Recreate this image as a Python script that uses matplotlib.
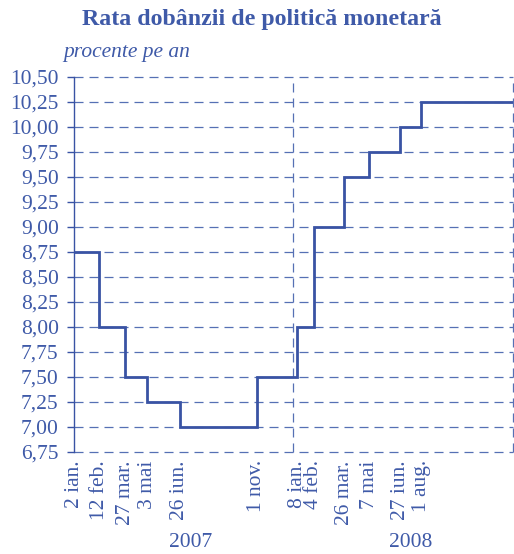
import matplotlib
matplotlib.use("Agg")
import matplotlib.pyplot as plt
import matplotlib.dates as mdates
from datetime import datetime

# ---- data ----
change_dates = ["2007-01-02", "2007-02-12", "2007-03-27", "2007-05-03", "2007-06-26",
                "2007-11-01", "2008-01-08", "2008-02-04", "2008-03-26", "2008-05-07",
                "2008-06-27", "2008-08-01", "2008-12-31"]
rates = [8.75, 8.00, 7.50, 7.25, 7.00, 7.50, 8.00, 9.00, 9.50, 9.75, 10.00, 10.25, 10.25]
tick_labels = ["2 ian.", "12 feb.", "27 mar.", "3 mai", "26 iun.", "1 nov.",
               "8 ian.", "4 feb.", "26 mar.", "7 mai", "27 iun.", "1 aug."]
years = ["2007", "2008"]
y_ticks = [6.75, 7.00, 7.25, 7.50, 7.75, 8.00, 8.25, 8.50, 8.75, 9.00, 9.25,
           9.50, 9.75, 10.00, 10.25, 10.50]
title = "Rata dobânzii de politică monetară"
unit = "procente pe an"

BLUE = "#3953a4"
TXT = "#3f5aa8"
GRID = "#5670b4"

plt.rcParams['font.family'] = ['Liberation Serif', 'DejaVu Serif']
plt.rcParams['lines.scale_dashes'] = False

fig = plt.figure(figsize=(5.14, 5.54), dpi=100)
ax = fig.add_axes([74/514, 1-452/554, (513-74)/514, (452-77)/554])

x = [mdates.date2num(datetime.strptime(d, "%Y-%m-%d")) for d in change_dates]
x0 = mdates.date2num(datetime(2007, 1, 1))
xm = mdates.date2num(datetime(2008, 1, 1))
x1 = mdates.date2num(datetime(2009, 1, 1))

ax.set_xlim(x0, x1)
ax.set_ylim(6.75, 10.50)

dash = (6.5, 4.3)
for yv in y_ticks:
    ax.axhline(yv, color=GRID, lw=0.9, dashes=dash, zorder=1, clip_on=False)
for xv in [xm, x1]:
    ax.axvline(xv, color=GRID, lw=0.9, dashes=dash, zorder=1, clip_on=False)

ax.plot(x, rates, drawstyle='steps-post', color=BLUE, lw=2.0, zorder=3,
        solid_joinstyle='miter')

for s in ['top', 'right', 'bottom']:
    ax.spines[s].set_visible(False)
ax.spines['left'].set_color(BLUE)
ax.spines['left'].set_linewidth(1.0)

FS = 15.5
ax.set_yticks(y_ticks)
ax.set_yticklabels([f"{v:.2f}".replace('.', ',') for v in y_ticks],
                   fontsize=FS, color=TXT)
ax.tick_params(axis='y', length=5, width=1.0, color=BLUE, pad=6)

ax.set_xticks(x[:-1])
ax.set_xticklabels(tick_labels, rotation=90, fontsize=FS, color=TXT,
                   va='top', ha='center')
ax.tick_params(axis='x', length=0, pad=6)
ax.set_facecolor('none')

for i, yr in enumerate(years):
    c = x0 + (x1 - x0) * (0.25 + 0.5 * i)
    ax.text(c + 12, -0.242, yr, transform=ax.get_xaxis_transform(),
            ha='center', va='center', fontsize=FS, color=TXT)

fig.text(0.5 + 5/514, 1 - 20/554, title, ha='center', va='center',
         fontsize=17.2, fontweight='bold', color=TXT)
fig.text(63/514, 1 - 52/554, unit, ha='left', va='center',
         fontsize=FS, style='italic', color=TXT)

fig.savefig("out.png", dpi=100)
